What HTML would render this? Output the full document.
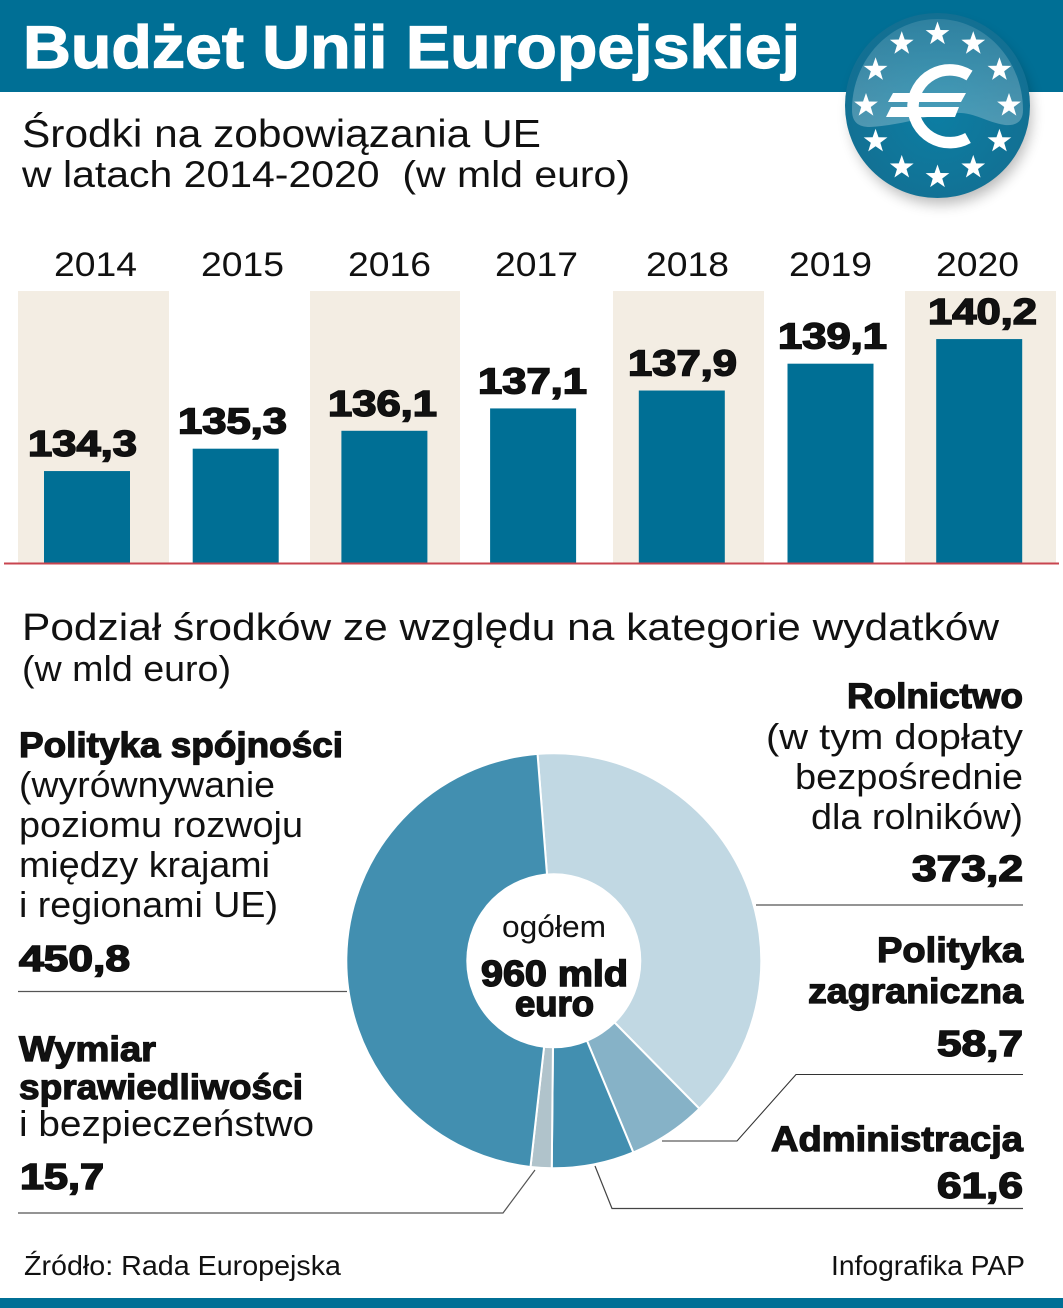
<!DOCTYPE html>
<html lang="pl">
<head>
<meta charset="utf-8">
<title>Budżet Unii Europejskiej</title>
<style>
  html,body{margin:0;padding:0;background:#fff;}
  svg{display:block;}
  text{font-family:"Liberation Sans",Arial,sans-serif;fill:#111;}
  .thin{font-weight:normal;}
  .bold{font-weight:bold;stroke:#0a0a0a;stroke-width:1.2px;paint-order:stroke;}
  .val{font-weight:bold;stroke:#0a0a0a;stroke-width:1.5px;paint-order:stroke;}
</style>
</head>
<body>
<svg id="chart" xmlns="http://www.w3.org/2000/svg" width="1063" height="1308" viewBox="0 0 1063 1308">
  <defs>
    <radialGradient id="badgeGrad" cx="50%" cy="55%" r="55%">
      <stop offset="0%" stop-color="#0c7ea3"/>
      <stop offset="100%" stop-color="#136f92"/>
    </radialGradient>
    <linearGradient id="highlightGrad" x1="0" y1="0" x2="0" y2="1">
      <stop offset="0%" stop-color="#fff" stop-opacity=".12"/>
      <stop offset="100%" stop-color="#fff" stop-opacity=".26"/>
    </linearGradient>
    <filter id="badgeShadow" x="-20%" y="-20%" width="140%" height="150%">
      <feGaussianBlur stdDeviation="7"/>
    </filter>
  </defs>

  <rect x="0" y="0" width="1063" height="92" fill="#006f95"/>
  <rect x="0" y="1298" width="1063" height="10" fill="#006f95"/>

  <text x="23" y="68" font-size="60" font-weight="bold" style="fill:#fff;stroke:#fff;stroke-width:1.2px" textLength="777" lengthAdjust="spacingAndGlyphs">Budżet Unii Europejskiej</text>

  <g id="badge">
    <ellipse cx="941" cy="114" rx="90" ry="90" fill="#000" opacity=".28" filter="url(#badgeShadow)"/>
    <circle cx="937.5" cy="105.5" r="92.5" fill="url(#badgeGrad)"/>
    <path d="M852 110 C852 60 890 19 937.5 19 C985 19 1023 60 1023 110 C1023 120 1018 126 1005 125 C985 122 975 112 955 113 C925 115 905 125 870 127 C858 127 852 122 852 110 Z" fill="url(#highlightGrad)"/>
    <path d="M969.5 75.5 A37 37 0 0 0 913 105.5 A37 37 0 0 0 968 138" fill="none" stroke="#fff" stroke-width="11.5"/>
    <path d="M893 93 H966 L961 102 H888 Z" fill="#fff"/>
    <path d="M891 107 H959 L955 117 H886 Z" fill="#fff"/>
  </g>

  <text class="thin" x="22" y="147" font-size="39" textLength="519" lengthAdjust="spacingAndGlyphs">Środki na zobowiązania UE</text>
  <text class="thin" x="22" y="187" font-size="37" textLength="608" lengthAdjust="spacingAndGlyphs" xml:space="preserve">w latach 2014-2020  (w mld euro)</text>

  <g fill="#f3ede3">
    <rect x="18" y="291" width="151" height="272"/>
    <rect x="310" y="291" width="150" height="272"/>
    <rect x="613" y="291" width="151" height="272"/>
    <rect x="905" y="291" width="151" height="272"/>
  </g>
  <g id="bars"></g>
  <line x1="4" y1="563.5" x2="1059" y2="563.5" stroke="#c8454f" stroke-width="2"/>

  <text class="thin" x="22" y="640" font-size="38" textLength="977" lengthAdjust="spacingAndGlyphs">Podział środków ze względu na kategorie wydatków</text>
  <text class="thin" x="22" y="681" font-size="36" textLength="209" lengthAdjust="spacingAndGlyphs">(w mld euro)</text>

  <g id="donut"></g>
  <circle cx="553.8" cy="960.8" r="87.5" fill="#fff"/>
  <text class="thin" x="502" y="937" font-size="31" textLength="104" lengthAdjust="spacingAndGlyphs">ogółem</text>
  <text class="val" x="481" y="986" font-size="36" textLength="147" lengthAdjust="spacingAndGlyphs">960 mld</text>
  <text class="val" x="515" y="1016" font-size="36" textLength="79" lengthAdjust="spacingAndGlyphs">euro</text>

  <!-- left: Polityka spójności -->
  <text class="bold" x="19" y="757" font-size="35" textLength="324" lengthAdjust="spacingAndGlyphs">Polityka spójności</text>
  <text class="thin" x="19" y="797" font-size="36" textLength="256" lengthAdjust="spacingAndGlyphs">(wyrównywanie</text>
  <text class="thin" x="19" y="837" font-size="36" textLength="284" lengthAdjust="spacingAndGlyphs">poziomu rozwoju</text>
  <text class="thin" x="19" y="877" font-size="36" textLength="251" lengthAdjust="spacingAndGlyphs">między krajami</text>
  <text class="thin" x="19" y="917" font-size="36" textLength="259" lengthAdjust="spacingAndGlyphs">i regionami UE)</text>
  <text class="val" x="19" y="971" font-size="36" textLength="111" lengthAdjust="spacingAndGlyphs">450,8</text>
  <line x1="18" y1="991.5" x2="347" y2="991.5" stroke="#555" stroke-width="1.2"/>

  <!-- left: Wymiar sprawiedliwości -->
  <text class="bold" x="19" y="1061" font-size="35" textLength="137" lengthAdjust="spacingAndGlyphs">Wymiar</text>
  <text class="bold" x="19" y="1099" font-size="35" textLength="284" lengthAdjust="spacingAndGlyphs">sprawiedliwości</text>
  <text class="thin" x="19" y="1136" font-size="36" textLength="295" lengthAdjust="spacingAndGlyphs">i bezpieczeństwo</text>
  <text class="val" x="20" y="1189" font-size="36" textLength="84" lengthAdjust="spacingAndGlyphs">15,7</text>
  <polyline points="18,1213 503,1213 535,1170" fill="none" stroke="#555" stroke-width="1.2"/>

  <!-- right: Rolnictwo -->
  <text class="bold" x="847" y="708" font-size="35" textLength="176" lengthAdjust="spacingAndGlyphs">Rolnictwo</text>
  <text class="thin" x="766" y="749" font-size="36" textLength="257" lengthAdjust="spacingAndGlyphs">(w tym dopłaty</text>
  <text class="thin" x="795" y="789" font-size="36" textLength="228" lengthAdjust="spacingAndGlyphs">bezpośrednie</text>
  <text class="thin" x="811" y="829" font-size="36" textLength="212" lengthAdjust="spacingAndGlyphs">dla rolników)</text>
  <text class="val" x="912" y="881" font-size="36" textLength="111" lengthAdjust="spacingAndGlyphs">373,2</text>
  <line x1="756" y1="905" x2="1023" y2="905" stroke="#555" stroke-width="1.2"/>

  <!-- right: Polityka zagraniczna -->
  <text class="bold" x="877" y="962" font-size="35" textLength="146" lengthAdjust="spacingAndGlyphs">Polityka</text>
  <text class="bold" x="808" y="1003" font-size="35" textLength="215" lengthAdjust="spacingAndGlyphs">zagraniczna</text>
  <text class="val" x="937" y="1056" font-size="36" textLength="86" lengthAdjust="spacingAndGlyphs">58,7</text>
  <polyline points="662,1141 737,1141 796,1074.5 1023,1074.5" fill="none" stroke="#333" stroke-width="1.1"/>

  <!-- right: Administracja -->
  <text class="bold" x="771" y="1151" font-size="35" textLength="252" lengthAdjust="spacingAndGlyphs">Administracja</text>
  <text class="val" x="937" y="1198" font-size="36" textLength="86" lengthAdjust="spacingAndGlyphs">61,6</text>
  <polyline points="595,1166 612,1208.5 1023,1208.5" fill="none" stroke="#444" stroke-width="1.2"/>

  <text class="thin" x="24" y="1275" font-size="28" textLength="317" lengthAdjust="spacingAndGlyphs">Źródło: Rada Europejska</text>
  <text class="thin" x="831" y="1275" font-size="28" textLength="194" lengthAdjust="spacingAndGlyphs">Infografika PAP</text>
</svg>

<script>
const years = ["2014","2015","2016","2017","2018","2019","2020"];
const budgetValues = [134.3,135.3,136.1,137.1,137.9,139.1,140.2];
const categoryNames = ["rolnictwo","polityka-zagraniczna","administracja","wymiar-sprawiedliwosci","polityka-spojnosci"];
const categoryValues = [373.2,58.7,61.6,15.7,450.8];
const categoryColors = ["#c1d8e3","#86b2c7","#428fb0","#b0c3cb","#428fb0"];

const NS = "http://www.w3.org/2000/svg";

/* bar-chart axis functions (the value axis is truncated, as in the original) */
function yScale(v){ return 563 - (v - 130.19) * 22.37; }
function barLeft(i){ return 44 + 148.7 * i; }
function valueCenter(i){ return 82.5 + 150 * i; }
function yearCenter(i){ return 95.5 + 147 * i + (i === 4 ? 4 : 0); }
function formatValue(v){ return v.toFixed(1).replace(".", ","); }

const barsGroup = document.getElementById("bars");
years.forEach(function(year, i){
  const v = budgetValues[i];
  const top = yScale(v);

  const bar = document.createElementNS(NS, "rect");
  
  
  bar.setAttribute("x", barLeft(i));
  bar.setAttribute("y", top);
  bar.setAttribute("width", 86);
  bar.setAttribute("height", 563 - top);
  bar.setAttribute("fill", "#006f95");
  barsGroup.appendChild(bar);

  const label = document.createElementNS(NS, "text");
  
  
  label.setAttribute("class", "val");
  label.setAttribute("x", valueCenter(i) - 54.5);
  label.setAttribute("y", top - 15);
  label.setAttribute("font-size", 36);
  label.setAttribute("textLength", 109);
  label.setAttribute("lengthAdjust", "spacingAndGlyphs");
  label.textContent = formatValue(v);
  barsGroup.appendChild(label);

  const yearLabel = document.createElementNS(NS, "text");
  
  
  yearLabel.setAttribute("class", "thin");
  yearLabel.setAttribute("x", yearCenter(i) - 41.5);
  yearLabel.setAttribute("y", 276);
  yearLabel.setAttribute("font-size", 34);
  yearLabel.setAttribute("textLength", 83);
  yearLabel.setAttribute("lengthAdjust", "spacingAndGlyphs");
  yearLabel.textContent = year;
  barsGroup.appendChild(yearLabel);
});

/* donut */
const cx = 553.8, cy = 960.8, outerR = 207.5;
const startDeg = -4.5;
const totalValue = categoryValues.reduce(function(a, b){ return a + b; }, 0);
function point(deg, r){
  const a = (deg - 90) * Math.PI / 180;
  return [cx + r * Math.cos(a), cy + r * Math.sin(a)];
}
const donutGroup = document.getElementById("donut");
let angle = startDeg;
categoryValues.forEach(function(v, i){
  const sweep = v / totalValue * 360;
  const p1 = point(angle, outerR);
  const p2 = point(angle + sweep, outerR);
  const large = sweep > 180 ? 1 : 0;
  const slice = document.createElementNS(NS, "path");
  
  
  slice.setAttribute("d", "M" + cx + " " + cy + " L" + p1[0] + " " + p1[1] + " A" + outerR + " " + outerR + " 0 " + large + " 1 " + p2[0] + " " + p2[1] + " Z");
  slice.setAttribute("fill", categoryColors[i]);
  slice.setAttribute("stroke", "#fff");
  slice.setAttribute("stroke-width", 2);
  donutGroup.appendChild(slice);
  angle += sweep;
});

/* badge stars: all twelve stand upright */
function starPath(x, y, R){
  let d = "";
  for (let k = 0; k < 10; k++){
    const r = k % 2 ? R * 0.4 : R;
    const a = (k * 36 - 90) * Math.PI / 180;
    d += (k ? "L" : "M") + (x + r * Math.cos(a)).toFixed(2) + " " + (y + r * Math.sin(a)).toFixed(2);
  }
  return d + "Z";
}
const badge = document.getElementById("badge");
for (let k = 0; k < 12; k++){
  const a = k * 30 * Math.PI / 180;
  const star = document.createElementNS(NS, "path");
  
  
  star.setAttribute("d", starPath(937.5 + 71.5 * Math.sin(a), 105.5 - 71.5 * Math.cos(a), 12.5));
  star.setAttribute("fill", "#fff");
  badge.appendChild(star);
}
</script>
</body>
</html>
